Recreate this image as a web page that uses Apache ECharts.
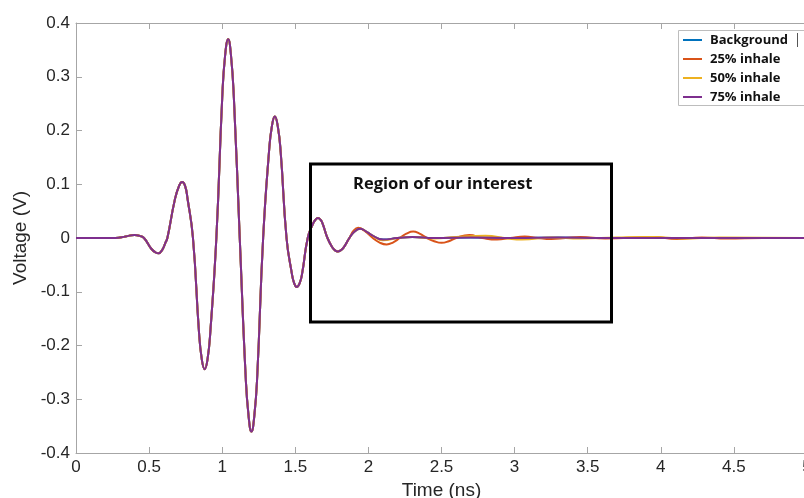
<!DOCTYPE html>
<html>
<head>
<meta charset="utf-8">
<script src="https://cdn.jsdelivr.net/npm/echarts@6/dist/echarts.min.js"></script>
<style>html,body{margin:0;padding:0;background:#fff;}#chart{width:804px;height:498px;}</style>
</head>
<body>
<div id="chart"></div>
<script>
// Shared pulse (all four traces coincide here)
const pulseTime = [0, 0.20, 0.27, 0.34, 0.40, 0.435, 0.465, 0.515, 0.545, 0.565, 0.59, 0.61, 0.625, 0.675, 0.705, 0.726, 0.746, 0.763, 0.80,
  0.84, 0.86, 0.88, 0.90, 0.92, 0.96, 1.00, 1.02, 1.041, 1.06, 1.08, 1.12, 1.16, 1.18, 1.20, 1.22, 1.24, 1.28,
  1.32, 1.34, 1.36, 1.38, 1.40, 1.44, 1.475, 1.492, 1.51, 1.53, 1.548, 1.585, 1.62, 1.638, 1.655, 1.672, 1.688, 1.72,
  1.755, 1.772, 1.79, 1.81, 1.83, 1.87];
const pulseVoltage = [0, 0, 0, 0.003, 0.0056, 0.004, 0, -0.02, -0.027, -0.0285, -0.022, -0.01, 0, 0.07, 0.097, 0.104, 0.097, 0.073, 0,
  -0.17, -0.225, -0.244, -0.225, -0.17, 0, 0.26, 0.34, 0.37, 0.34, 0.26, 0, -0.255, -0.33, -0.36, -0.33, -0.255, 0,
  0.16, 0.208, 0.226, 0.208, 0.16, 0, -0.064, -0.084, -0.091, -0.084, -0.064, 0, 0.026, 0.034, 0.037, 0.034, 0.026, 0,
  -0.018, -0.023, -0.025, -0.023, -0.018, 0];

// Tails (after the shared pulse)
const backgroundTailTime    = [1.905, 1.943, 1.98, 2.02, 2.10, 2.20, 2.30, 2.45, 2.70, 3.00, 3.30, 3.60, 4.00, 4.50, 5.00];
const backgroundTailVoltage = [0.012, 0.017, 0.013, 0.006, -0.003, 0, 0.002, 0, 0.001, 0, 0.001, 0, 0, 0, 0];

const inhale25TailTime    = [1.90, 1.93, 1.975, 2.03, 2.08, 2.125, 2.17, 2.215, 2.26, 2.306, 2.35, 2.40, 2.45, 2.50, 2.55, 2.60, 2.69, 2.78, 2.88, 2.97, 3.07, 3.16, 3.25, 3.35, 3.45, 3.62, 3.95, 4.11, 4.28, 4.45, 4.70, 5.00];
const inhale25TailVoltage = [0.014, 0.019, 0.013, 0, -0.009, -0.012, -0.008, 0, 0.008, 0.012, 0.008, 0, -0.006, -0.009, -0.006, 0, 0.0056, 0, -0.003, 0, 0.003, 0, -0.002, 0, 0.002, -0.001, 0.002, -0.002, 0.001, -0.001, 0, 0];

const inhale50TailTime    = [1.905, 1.943, 1.98, 2.02, 2.10, 2.20, 2.30, 2.45, 2.60, 2.80, 2.95, 3.05, 3.25, 3.45, 3.70, 3.95, 4.15, 4.40, 5.00];
const inhale50TailVoltage = [0.012, 0.017, 0.013, 0.006, -0.004, 0, 0.002, -0.001, 0.002, 0.004, -0.001, -0.003, 0.001, -0.001, 0.001, 0.002, -0.001, 0.001, 0];

const inhale75TailTime    = [1.905, 1.943, 1.98, 2.02, 2.10, 2.20, 2.30, 2.45, 2.70, 3.00, 3.30, 3.60, 4.00, 4.50, 5.00];
const inhale75TailVoltage = [0.012, 0.017, 0.013, 0.006, -0.003, 0, 0.002, 0, 0.001, 0, 0.001, 0, 0, 0, 0];

const seriesNames  = ['Background', '25% inhale', '50% inhale', '75% inhale'];
const seriesColors = ['#0072BD', '#D95319', '#EDB120', '#7E2F8E'];
const xTicks = [0, 0.5, 1, 1.5, 2, 2.5, 3, 3.5, 4, 4.5, 5];
const yTicks = [-0.4, -0.3, -0.2, -0.1, 0, 0.1, 0.2, 0.3, 0.4];

function build(tt, tv) {
  const pts = pulseTime.map((t, i) => [t, pulseVoltage[i]]);
  tt.forEach((t, i) => pts.push([t, tv[i]]));
  return pts;
}
const tails = [
  [backgroundTailTime, backgroundTailVoltage],
  [inhale25TailTime, inhale25TailVoltage],
  [inhale50TailTime, inhale50TailVoltage],
  [inhale75TailTime, inhale75TailVoltage]
];

const axisColor = '#a6a6a6';
const labelColor = '#262626';
const fontFam = '"Liberation Sans", Arial, sans-serif';

const chart = echarts.init(document.getElementById('chart'), null, {renderer: 'canvas'});
chart.setOption({
  animation: false,
  backgroundColor: '#fff',
  grid: {left: 76, top: 23, width: 731, height: 430, containLabel: false, outerBoundsMode: 'none'},
  xAxis: [{
    type: 'value', min: 0, max: 5, interval: 0.5,
    name: 'Time (ns)', nameLocation: 'middle', nameGap: 23,
    nameTextStyle: {fontSize: 19, color: labelColor, fontFamily: fontFam},
    axisLine: {show: true, onZero: false, lineStyle: {color: axisColor, width: 1}},
    axisTick: {show: true, inside: true, length: 6, lineStyle: {color: axisColor}},
    axisLabel: {fontSize: 17, color: labelColor, fontFamily: fontFam, margin: 6,
      formatter: v => xTicks.includes(v) ? String(v) : ''},
    splitLine: {show: false}
  }, {
    type: 'value', min: 0, max: 5, interval: 0.5, position: 'top',
    axisLine: {show: true, onZero: false, lineStyle: {color: axisColor, width: 1}},
    axisTick: {show: true, inside: true, length: 6, lineStyle: {color: axisColor}},
    axisLabel: {show: false}, splitLine: {show: false}
  }],
  yAxis: [{
    type: 'value', min: -0.4, max: 0.4, interval: 0.1,
    name: 'Voltage (V)', nameLocation: 'middle', nameGap: 40,
    nameTextStyle: {fontSize: 19, color: labelColor, fontFamily: fontFam},
    axisLine: {show: true, onZero: false, lineStyle: {color: axisColor, width: 1}},
    axisTick: {show: true, inside: true, length: 6, lineStyle: {color: axisColor}},
    axisLabel: {fontSize: 17, color: labelColor, fontFamily: fontFam, margin: 6,
      formatter: v => { const r = Math.round(v * 10) / 10; return yTicks.includes(r) ? String(r) : ''; }},
    splitLine: {show: false}
  }],
  legend: {
    orient: 'vertical', left: 683, top: 33,
    itemWidth: 19, itemHeight: 2, itemGap: 5, padding: 0, icon: 'rect',
    data: seriesNames,
    textStyle: {fontSize: 13, fontWeight: 'bold', color: '#111', fontFamily: '"Open Sans", sans-serif', padding: [0, 0, 0, 3], lineHeight: 14, height: 14}
  },
  series: seriesNames.map((n, i) => ({
    name: n, type: 'line', smooth: 0.5, symbol: 'none', showSymbol: false,
    data: build(tails[i][0], tails[i][1]),
    lineStyle: {color: seriesColors[i], width: 2},
    itemStyle: {color: seriesColors[i]},
    z: 2 + i
  })),
  graphic: [
    {type: 'rect', shape: {x: 678.5, y: 30.5, width: 140, height: 75},
     style: {fill: 'rgba(255,255,255,0)', stroke: '#bdbdbd', lineWidth: 1}, z: 1},
    {type: 'line', shape: {x1: 797.5, y1: 33, x2: 797.5, y2: 47},
     style: {stroke: '#555', lineWidth: 1}, z: 100},
    {type: 'rect', shape: {x: 310.5, y: 164, width: 301, height: 158},
     style: {fill: 'rgba(0,0,0,0)', stroke: '#000', lineWidth: 3}, z: 100},
    {type: 'text', x: 353, y: 176,
     style: {text: 'Region of our interest', fill: '#111', font: 'bold 16.5px "Open Sans", sans-serif'}, z: 100}
  ]
});
</script>
</body>
</html>
